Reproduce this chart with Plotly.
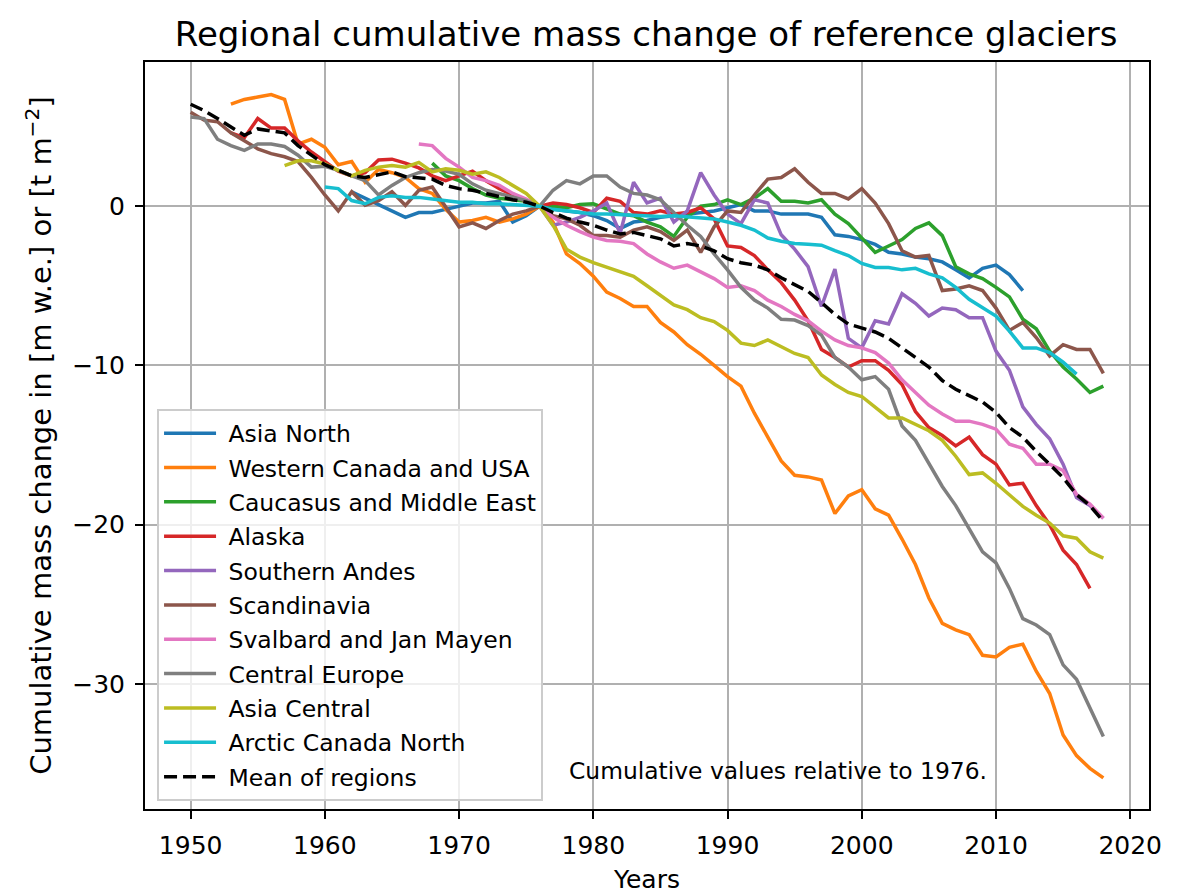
import plotly.graph_objects as go

# ---- data ----
years_asia_north = list(range(1962, 2013))
asia_north = [0.9, 0.5, 0.1, -0.3, -0.7, -0.4, -0.4, -0.2, 0.0, 0.2, 0.2, 0.3, -1.0, -0.6,
              0.0, -0.2, -0.3, -0.4, -0.6, -0.9, -1.4, -1.0, -0.9, -0.7, -0.6, -0.5, -0.4, -0.3,
              -0.1, 0.1, -0.3, -0.3, -0.5, -0.5, -0.5, -0.7, -1.8, -1.9, -2.1, -2.4, -2.9, -3.0,
              -3.2, -3.3, -3.5, -4.0, -4.5, -3.9, -3.7, -4.3, -5.3]

years_w_canada = list(range(1953, 2019))
w_canada = [6.4, 6.7, 6.85, 7.0, 6.7, 3.9, 4.2, 3.7, 2.6, 2.8, 1.5, 2.3, 2.1, 1.8, 1.1, 0.8,
            -0.2, -1.0, -0.9, -0.7, -1.0, -0.8, -0.5, 0.0, -1.0, -3.0, -3.6, -4.4, -5.4, -5.8,
            -6.3, -6.3, -7.3, -7.9, -8.7, -9.3, -10.0, -10.7, -11.3, -13.0, -14.5, -16.0, -16.9,
            -17.0, -17.2, -19.3, -18.2, -17.8, -19.0, -19.4, -20.9, -22.5, -24.6, -26.2, -26.6,
            -26.9, -28.2, -28.3, -27.7, -27.5, -29.2, -30.6, -33.2, -34.5, -35.3, -35.9]

years_caucasus = list(range(1968, 2019))
caucasus = [2.7, 1.9, 1.6, 1.1, 0.7, 0.5, 0.4, 0.3, 0.0, 0.0, -0.1, 0.1, 0.15, -0.2, -0.5,
            -0.6, -1.0, -1.3, -1.9, -0.7, 0.0, 0.1, 0.4, 0.1, 0.5, 1.1, 0.3, 0.3, 0.2, 0.4,
            -0.5, -1.1, -2.0, -2.9, -2.5, -2.1, -1.4, -1.05, -1.85, -3.8, -4.25, -4.55, -5.1,
            -5.7, -7.1, -7.7, -9.1, -10.1, -10.85, -11.7, -11.3]

years_alaska = list(range(1953, 2018))
alaska = [4.6, 4.3, 5.5, 4.9, 4.9, 4.1, 3.4, 2.8, 2.2, 1.9, 2.1, 2.9, 2.95, 2.7, 2.4, 1.9,
          1.6, 1.9, 2.2, 1.6, 1.1, 0.7, 0.3, 0.0, 0.2, 0.1, -0.1, -0.4, 0.5, 0.3, -0.4, -0.5,
          -0.3, -0.5, -0.4, -0.1, -0.8, -2.5, -2.6, -3.1, -4.0, -4.8, -5.9, -7.2, -9.0, -9.5,
          -10.1, -9.7, -9.7, -10.3, -11.2, -12.9, -13.9, -14.4, -15.05, -14.5, -15.6, -16.2,
          -17.5, -17.4, -18.8, -20.0, -21.6, -22.5, -24.0]

years_s_andes = list(range(1976, 2019))
s_andes = [0.0, -1.2, -1.0, -0.7, -0.3, 0.2, -1.7, 1.5, 0.2, 0.5, -1.0, -0.3, 2.1, 0.7, -0.5,
           -1.1, 0.4, 0.2, -1.8, -2.7, -3.8, -6.3, -3.95, -8.3, -8.9, -7.2, -7.4, -5.5, -6.1,
           -6.9, -6.4, -6.5, -7.0, -7.0, -9.1, -10.3, -12.6, -13.7, -14.6, -16.2, -18.3, -18.8,
           -19.6]

years_scandinavia = list(range(1950, 2019))
scandinavia = [5.9, 5.4, 5.3, 4.6, 4.1, 3.6, 3.3, 3.1, 2.8, 1.8, 0.7, -0.3, 0.9, 0.05, 0.35,
               0.9, 0.05, 1.0, 1.2, -0.05, -1.3, -1.05, -1.4, -0.9, -0.5, -0.3, 0.0, -0.6, -0.8,
               -1.2, -1.85, -1.85, -1.95, -1.5, -1.3, -1.6, -2.15, -1.5, -2.9, -1.3, -0.3, -0.4,
               0.7, 1.7, 1.8, 2.35, 1.5, 0.8, 0.8, 0.45, 1.1, 0.2, -1.1, -2.8, -3.2, -3.1, -5.3,
               -5.2, -5.0, -5.3, -6.4, -7.8, -7.3, -8.25, -9.4, -8.7, -9.0, -9.0, -10.5]

years_svalbard = list(range(1967, 2019))
svalbard = [3.9, 3.8, 3.0, 2.45, 1.8, 1.6, 1.3, 0.8, 0.45, 0.0, -0.7, -1.2, -1.6, -1.95, -2.15,
            -2.2, -2.35, -3.0, -3.5, -3.9, -3.7, -4.15, -4.55, -5.1, -5.0, -5.3, -5.9, -6.3,
            -6.8, -7.2, -7.85, -8.4, -8.75, -8.9, -9.2, -9.85, -10.9, -11.7, -12.5, -13.05,
            -13.5, -13.5, -13.7, -14.0, -14.95, -15.2, -16.2, -16.2, -16.6, -18.1, -18.7, -19.6]

years_c_europe = list(range(1950, 2019))
c_europe = [5.6, 5.5, 4.2, 3.8, 3.5, 3.9, 3.9, 3.75, 3.2, 2.45, 2.5, 2.25, 1.9, 1.6, 0.7, 1.3,
            1.8, 2.1, 2.3, 2.2, 2.0, 1.4, 1.0, 0.8, 0.55, 0.35, 0.0, 1.0, 1.6, 1.4, 1.9, 1.9,
            1.2, 0.8, 0.7, 0.4, -0.4, -1.2, -1.9, -3.0, -4.0, -5.1, -5.9, -6.4, -7.1, -7.15,
            -7.5, -8.1, -9.5, -10.1, -10.9, -10.7, -11.5, -13.8, -14.7, -16.2, -17.6, -18.8,
            -20.2, -21.7, -22.4, -24.0, -25.9, -26.3, -26.9, -28.8, -29.7, -31.5, -33.3]

years_asia_central = list(range(1957, 2019))
asia_central = [2.55, 2.85, 2.85, 2.65, 2.25, 1.9, 2.25, 2.45, 2.55, 2.45, 2.75, 2.15, 2.35,
                2.25, 2.0, 2.15, 1.8, 1.3, 0.8, 0.0, -1.2, -2.7, -3.2, -3.55, -3.85, -4.1, -4.4,
                -5.0, -5.6, -6.2, -6.5, -7.0, -7.25, -7.8, -8.6, -8.75, -8.4, -8.8, -9.25, -9.5,
                -10.6, -11.2, -11.7, -11.95, -12.6, -13.3, -13.3, -13.7, -14.1, -14.7, -15.7,
                -16.85, -16.75, -17.4, -18.1, -18.85, -19.4, -19.9, -20.7, -20.85, -21.7, -22.1]

years_arctic_canada = list(range(1960, 2017))
arctic_canada = [1.2, 1.1, 0.35, 0.15, 0.55, 0.65, 0.55, 0.55, 0.45, 0.35, 0.25, 0.25, 0.15,
                 0.15, 0.1, 0.05, 0.0, -0.2, -0.3, -0.4, -0.5, -0.5, -0.55, -0.6, -0.65, -0.65,
                 -0.6, -0.65, -0.7, -0.8, -1.0, -1.2, -1.5, -2.0, -2.2, -2.35, -2.4, -2.45, -2.8,
                 -3.1, -3.6, -3.85, -3.85, -4.0, -3.9, -4.25, -4.5, -5.1, -5.85, -6.35, -6.9,
                 -7.85, -8.9, -8.9, -9.2, -9.8, -10.55]

years_mean = list(range(1950, 2019))
mean_regions = [6.4, 6.0, 5.5, 5.0, 4.45, 4.85, 4.7, 4.6, 3.8, 3.2, 2.6, 2.25, 1.9, 1.8, 2.0,
                2.15, 1.85, 1.8, 1.7, 1.3, 1.1, 1.0, 0.8, 0.55, 0.4, 0.25, 0.0, -0.4, -0.75,
                -1.0, -1.2, -1.5, -1.75, -1.65, -1.85, -2.05, -2.5, -2.35, -2.5, -2.8, -3.3,
                -3.55, -3.7, -4.0, -4.5, -4.9, -5.35, -6.05, -6.8, -7.4, -7.65, -7.9, -8.3,
                -8.9, -9.45, -10.1, -10.95, -11.5, -11.9, -12.3, -12.95, -13.9, -14.5, -15.4,
                -16.2, -17.05, -18.1, -18.8, -19.8]

x_ticks = [1950, 1960, 1970, 1980, 1990, 2000, 2010, 2020]
y_ticks = [0, -10, -20, -30]
y_tick_labels = ["0", "\u221210", "\u221220", "\u221230"]

series = [
    ("Asia North", years_asia_north, asia_north, "#1f77b4"),
    ("Western Canada and USA", years_w_canada, w_canada, "#ff7f0e"),
    ("Caucasus and Middle East", years_caucasus, caucasus, "#2ca02c"),
    ("Alaska", years_alaska, alaska, "#d62728"),
    ("Southern Andes", years_s_andes, s_andes, "#9467bd"),
    ("Scandinavia", years_scandinavia, scandinavia, "#8c564b"),
    ("Svalbard and Jan Mayen", years_svalbard, svalbard, "#e377c2"),
    ("Central Europe", years_c_europe, c_europe, "#7f7f7f"),
    ("Asia Central", years_asia_central, asia_central, "#bcbd22"),
    ("Arctic Canada North", years_arctic_canada, arctic_canada, "#17becf"),
]

FONT = "DejaVu Sans"
NB = "\u00a0"
fig = go.Figure()
for name, xs, ys, col in series:
    fig.add_trace(go.Scatter(x=xs, y=ys, mode="lines", name=NB + name, legendgroup=name,
                             line=dict(color=col, width=3.5)))
fig.add_trace(go.Scatter(x=years_mean, y=mean_regions, mode="lines", name=NB + "Mean of regions",
                         legendgroup="mean",
                         line=dict(color="black", width=3.5, dash="13px,6px")))

axis_common = dict(showline=True, linecolor="black", linewidth=2, mirror=True,
                   showgrid=True, gridcolor="#b0b0b0", gridwidth=2, zeroline=False,
                   ticks="outside", ticklen=8, tickwidth=2, tickcolor="black",
                   automargin=False, ticklabelstandoff=5,
                   tickfont=dict(family=FONT, size=25, color="black"))

fig.update_layout(
    width=1200, height=894,
    margin=dict(l=145, r=51, t=62, b=85),
    paper_bgcolor="white", plot_bgcolor="white",
    font=dict(family=FONT, color="black"),
    title=dict(text="Regional cumulative mass change of reference glaciers",
               x=0.5385, xanchor="center", y=1 - 34 / 894, yanchor="middle",
               font=dict(family=FONT, size=34, color="black")),
    xaxis=dict(range=[1946.6, 2021.4], tickvals=x_ticks,
               title=dict(text="Years", font=dict(family=FONT, size=25), standoff=12),
               **axis_common),
    yaxis=dict(range=[-37.85, 9.05], tickvals=y_ticks, ticktext=y_tick_labels,
               title=dict(text="Cumulative mass change in [m w.e.] or [t m<sup>\u22122</sup>]",
                          font=dict(family=FONT, size=29), standoff=12),
               **axis_common),
    legend=dict(x=0.012, y=0.535, xanchor="left", yanchor="top",
                bgcolor="rgba(255,255,255,0.8)", bordercolor="#cccccc", borderwidth=2,
                font=dict(family=FONT, size=23.5, color="black"), itemwidth=52,
                traceorder="grouped", tracegroupgap=0.8),
    annotations=[dict(text="Cumulative values relative to 1976.", xref="paper", yref="paper",
                      x=0.42, y=0.051, xanchor="left", yanchor="middle", showarrow=False,
                      font=dict(family=FONT, size=23.4, color="black"))],
)

fig.write_html("out.html")
